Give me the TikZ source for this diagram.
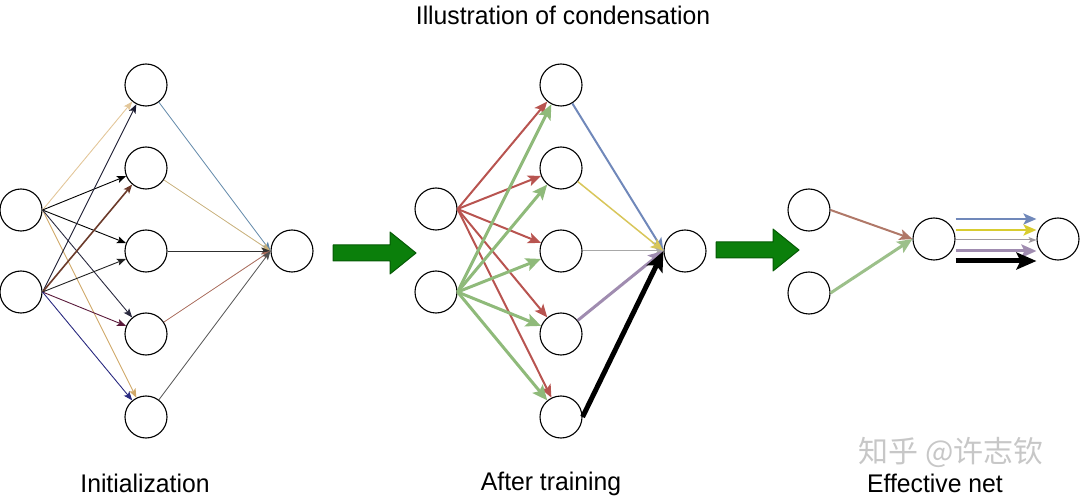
\documentclass[tikz,border=0pt]{standalone}
\usepackage{fontspec}
\setmainfont{Liberation Sans}
\newfontfamily\cjkfont{Noto Sans CJK SC}
\usetikzlibrary{arrows.meta}
\definecolor{bigfill}{HTML}{0B7F0B}
\definecolor{bigedge}{HTML}{055A05}
\definecolor{dred}{HTML}{B85450}
\definecolor{dgrn}{HTML}{8FBA7A}
\definecolor{dblue}{HTML}{7088BA}
\definecolor{dyel}{HTML}{D8C65A}
\definecolor{dpur}{HTML}{A08CB0}
\definecolor{lgray}{HTML}{A8A8A8}
\begin{document}
\begin{tikzpicture}[x=1pt,y=-1pt,
  neuron/.style={circle,draw=black,line width=1.1pt,minimum size=42pt,inner sep=0pt,fill=white},
  fine/.style={line width=0.9pt,-{Stealth[length=9pt,width=7pt,inset=2pt]}},
  mid/.style={line width=2pt,-{Stealth[length=13pt,width=11pt,inset=3pt]}},
  thick3/.style={line width=3pt,-{Stealth[length=15pt,width=13pt,inset=3pt]}},
  heavy/.style={line width=5pt,-{Stealth[length=20pt,width=17pt,inset=4pt]}},
  hair/.style={line width=1pt,-{Stealth[length=8pt,width=6pt,inset=2pt]}},
  label/.style={font=\fontsize{25.5}{30}\selectfont,inner sep=0pt,xscale=0.97},
  bigarrow/.pic={\draw[fill=bigfill,draw=bigedge,line width=1pt,line join=round]
     (0,-8) -- (57,-8) -- (57,-21) -- (83,0) -- (57,21) -- (57,8) -- (0,8) -- cycle;}
]
\path[use as bounding box] (0,0) rectangle (1080,497);

% ---------- Initialization ----------
\node[neuron] (L1) at (21,210) {};
\node[neuron] (L2) at (21,292) {};
\foreach \i/\y in {1/85,2/168,3/251,4/334,5/417}
  \node[neuron] (LH\i) at (146,\y) {};
\node[neuron] (LO) at (292,251) {};

\draw[fine,color={rgb,255:red,227;green,199;blue,154}] (L1.east) -- (LH1);
\draw[fine,color={rgb,255:red,208;green,168;blue,104}] (L1.east) -- (LH5);
\draw[fine,color=black] (L1.east) -- (LH2);
\draw[fine,color=black] (L1.east) -- (LH3);
\draw[fine,color={rgb,255:red,42;green,42;blue,64}] (L1.east) -- (LH4);
\draw[fine,color={rgb,255:red,26;green,26;blue,48}] (L2.east) -- (LH1);
\draw[fine,line width=1.6pt,color={rgb,255:red,107;green,58;blue,42}] (L2.east) -- (LH2);
\draw[fine,color={rgb,255:red,32;green,32;blue,32}] (L2.east) -- (LH3);
\draw[fine,color={rgb,255:red,90;green,26;blue,58}] (L2.east) -- (LH4);
\draw[fine,color={rgb,255:red,42;green,42;blue,128}] (L2.east) -- (LH5);

\draw[fine,line width=0.8pt,color={rgb,255:red,95;green,135;blue,168}] (LH1) -- (LO.west);
\draw[fine,line width=0.8pt,color={rgb,255:red,200;green,176;blue,122}] (LH2) -- (LO.west);
\draw[fine,line width=0.8pt,color={rgb,255:red,48;green,48;blue,48}] (LH3) -- (LO.west);
\draw[fine,line width=0.8pt,color={rgb,255:red,168;green,106;blue,90}] (LH4) -- (LO.west);
\draw[fine,line width=0.8pt,color={rgb,255:red,80;green,80;blue,80}] (LH5) -- (LO.west);

% ---------- big arrows ----------
\pic at (333,253) {bigarrow};
\pic at (716,250) {bigarrow};

% ---------- After training ----------
\node[neuron] (M1) at (436,209) {};
\node[neuron] (M2) at (436,292) {};
\foreach \i/\y in {1/85,2/168,3/251,4/334,5/417}
  \node[neuron] (MH\i) at (561,\y) {};
\node[neuron] (MO) at (685,251) {};

\foreach \i in {1,...,5}
  \draw[mid,color=dred] (M1.east) -- (MH\i);
\foreach \i in {1,...,5}
  \draw[thick3,color=dgrn] (M2.east) -- (MH\i);

\draw[mid,color=dblue] (MH1) -- (MO.west);
\draw[mid,line width=1.5pt,color=dyel] (MH2) -- (MO.west);
\draw[hair,color=lgray] (MH3) -- (MO.west);
\draw[thick3,color=dpur] (MH4) -- (MO.west);
\draw[heavy,color=black] (MH5.east) -- (MO.west);

% ---------- Effective net ----------
\node[neuron] (R1) at (809,210) {};
\node[neuron] (R2) at (809,293) {};
\node[neuron] (RM) at (934,239) {};
\node[neuron] (RO) at (1058,239) {};

\draw[mid,color={rgb,255:red,176;green,120;blue,104}] (R1.east) -- (RM.west);
\draw[thick3,color={rgb,255:red,156;green,192;blue,138}] (R2.east) -- (RM.west);

\draw[mid,line width=2.5pt,color=dblue] ([yshift=20pt]RM.east) -- ([yshift=20pt]RO.west);
\draw[mid,line width=2.5pt,color={rgb,255:red,216;green,204;blue,48}] ([yshift=9pt]RM.east) -- ([yshift=9pt]RO.west);
\draw[hair,color={rgb,255:red,160;green,154;blue,160}] ([yshift=-1pt]RM.east) -- ([yshift=-1pt]RO.west);
\draw[thick3,color=dpur] ([yshift=-12pt]RM.east) -- ([yshift=-12pt]RO.west);
\draw[heavy,color=black] ([yshift=-22pt]RM.east) -- ([yshift=-22pt]RO.west);

% ---------- texts ----------
\node[label] (title) at (563,15) {Illustration of condensation};
\node[label] (t1) at (145,483) {Initialization};
\node[label] (t2) at (551,484) {After training};
\node[label] (t3) at (935,483) {Effective net};
\node[font=\cjkfont\fontsize{30}{34}\selectfont,text=black!22,inner sep=0pt] (wm) at (951,452) {知乎 @许志钦};
\end{tikzpicture}
\end{document}
